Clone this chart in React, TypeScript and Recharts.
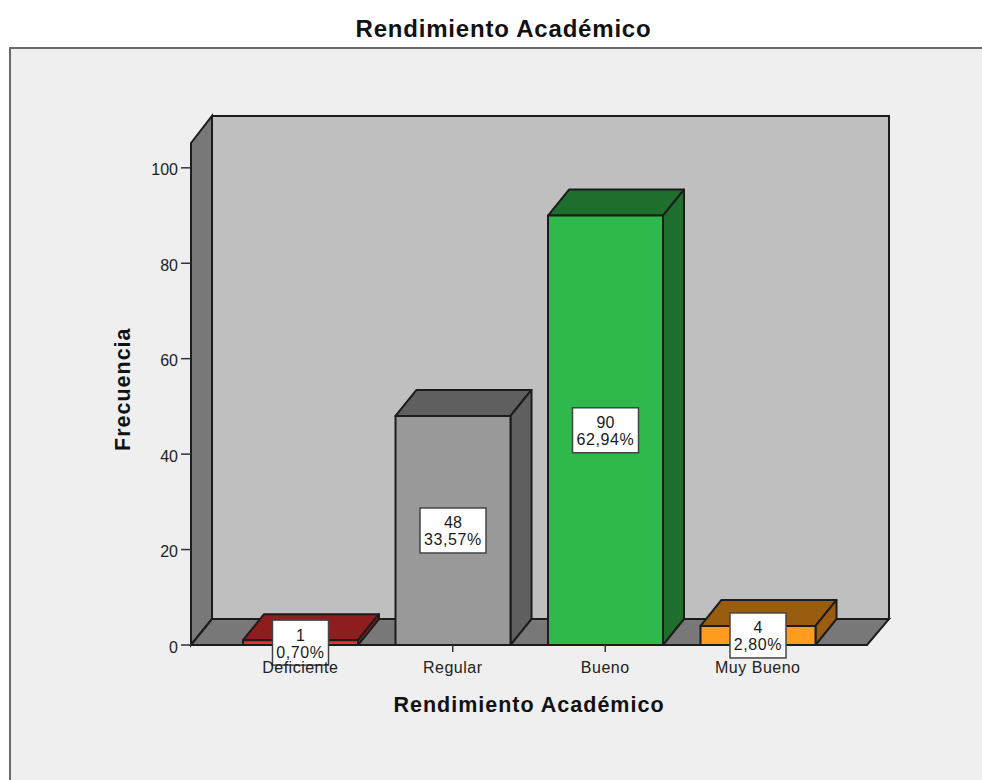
import React from 'react';
import { BarChart, Bar, XAxis, YAxis, LabelList } from 'recharts';

const categories = ['Deficiente', 'Regular', 'Bueno', 'Muy Bueno'];
const frequencies = [1, 48, 90, 4];
const percents = ['0,70%', '33,57%', '62,94%', '2,80%'];
const frontColors = ['#e5333a', '#999999', '#2fb84c', '#ff9c1e'];
const sideColors = ['#8f1d20', '#5f5f5f', '#1e6e2e', '#9a5d10'];
const yTicks = [0, 20, 40, 60, 80, 100];

const table = categories.map((name, i) => ({
  name,
  value: frequencies[i],
  percent: percents[i],
  index: i,
}));

const DX = 21;
const DY = 26;
const INK = '#1c1c1c';
const FONT = '"Liberation Sans", Arial, sans-serif';

const Bar3D = (props: any) => {
  const { x, y, width, height, index } = props;
  const r = x + width;
  const b = y + height;
  return (
    <g stroke={INK} strokeWidth={2} strokeLinejoin="round">
      <polygon points={`${x},${y} ${x + DX},${y - DY} ${r + DX},${y - DY} ${r},${y}`} fill={sideColors[index]} />
      <polygon points={`${r},${y} ${r + DX},${y - DY} ${r + DX},${b - DY} ${r},${b}`} fill={sideColors[index]} />
      <rect x={x} y={y} width={width} height={height} fill={frontColors[index]} />
    </g>
  );
};

const ValueBox = (props: any) => {
  const { x, y, width, height, index } = props;
  const cx = x + width / 2;
  const cy = y + height / 2;
  const w = percents[index].length > 5 ? 66 : 56;
  return (
    <g fontFamily={FONT} fontSize={16} fill="#1a1a1a" textAnchor="middle">
      <rect x={cx - w / 2} y={cy - 22.5} width={w} height={45} fill="#ffffff" stroke="#444444" strokeWidth={1.5} />
      <text x={cx} y={cy - 2}>{frequencies[index]}</text>
      <text x={cx} y={cy + 15} letterSpacing={0.6}>{percents[index]}</text>
    </g>
  );
};

export default function App() {
  return (
    <div style={{ position: 'absolute', left: 0, top: 0, width: 982, height: 780, overflow: 'hidden', background: '#ffffff' }}>
      <div style={{ position: 'absolute', left: 9, top: 47, width: 973, height: 733, boxSizing: 'border-box', background: '#efefef', borderTop: '2px solid #6a6a6a', borderLeft: '2px solid #6a6a6a' }} />
      <div style={{ position: 'absolute', left: 0, width: 1007, top: 14, textAlign: 'center', fontFamily: FONT, fontWeight: 700, fontSize: 24, lineHeight: '30px', color: '#111', letterSpacing: 0.8 }}>
        Rendimiento Académico
      </div>
      <div style={{ position: 'absolute', left: 0, top: 0 }}>
        <BarChart width={982} height={780} data={table} margin={{ top: 143, right: 115, bottom: 75, left: 131 }} barSize={115}>
          <g>
            <polygon points="212,116 889,116 889,619 212,619" fill="#bfbfbf" stroke={INK} strokeWidth={2} />
            <polygon points="191,143 212,116 212,619 191,645" fill="#787878" stroke={INK} strokeWidth={2} />
            <polygon points="191,645 212,619 889,619 867,645" fill="#787878" stroke={INK} strokeWidth={2} />
          </g>
          <Bar dataKey="value" shape={<Bar3D />} isAnimationActive={false}>
            <LabelList dataKey="value" content={(p: any) => <ValueBox {...p} />} />
          </Bar>
          <XAxis
            dataKey="name"
            height={60}
            padding={{ left: 33, right: 33 }}
            axisLine={{ stroke: INK, strokeWidth: 2 }}
            tickLine={{ stroke: '#333333', strokeWidth: 1.5 }}
            tickSize={7}
            tickMargin={10}
            interval={0}
            tick={{ fontFamily: FONT, fontSize: 16, fill: '#222222', letterSpacing: 0.5 }}
            label={{ value: 'Rendimiento Académico', position: 'insideBottom', offset: 0, dy: 7, fontFamily: FONT, fontWeight: 700, fontSize: 21.5, fill: '#111111', letterSpacing: 1 }}
          />
          <YAxis
            width={60}
            domain={[0, 105.2]}
            ticks={yTicks}
            allowDecimals={false}
            axisLine={{ stroke: INK, strokeWidth: 2 }}
            tickLine={{ stroke: '#333333', strokeWidth: 1.5 }}
            tickSize={10}
            tickMargin={3}
            tick={{ fontFamily: FONT, fontSize: 16, fill: '#222222', dy: 2 }}
            label={{ value: 'Frecuencia', angle: -90, position: 'insideLeft', offset: 0, dx: -9, dy: 57, fontFamily: FONT, fontWeight: 700, fontSize: 21.5, fill: '#111111', letterSpacing: 1 }}
          />
        </BarChart>
      </div>
    </div>
  );
}
